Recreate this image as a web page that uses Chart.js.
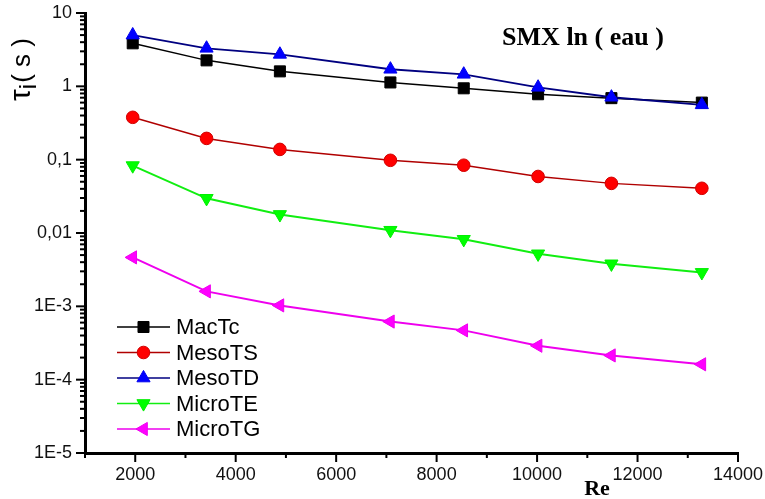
<!DOCTYPE html>
<html>
<head>
<meta charset="utf-8">
<script src="https://cdn.jsdelivr.net/npm/chart.js@4/dist/chart.umd.min.js"></script>
<style>
html, body { margin: 0; padding: 0; background: #fff; }
</style>
</head>
<body>
<canvas id="tau-chart" width="765" height="499"></canvas>
<script>
/* tau_i vs Re, SMX ln (eau) */
var reValues = [1950, 3420, 4880, 7080, 8540, 10020, 11480, 13280];
var macTc   = [3.86, 2.26, 1.60, 1.13, 0.94, 0.78, 0.69, 0.60];
var mesoTS  = [0.378, 0.195, 0.138, 0.098, 0.084, 0.059, 0.0475, 0.0407];
var mesoTD  = [5.0, 3.3, 2.73, 1.71, 1.46, 0.97, 0.71, 0.56];
var microTE = [0.083, 0.0297, 0.0179, 0.0109, 0.0082, 0.0052, 0.0038, 0.0029];
var microTG = [0.00465, 0.0016, 0.00103, 0.00062, 0.00047, 0.00029, 0.000214, 0.000162];

var yTickValues = [10, 1, 0.1, 0.01, 0.001, 0.0001, 0.00001];
var yTickText   = ['10', '1', '0,1', '0,01', '1E-3', '1E-4', '1E-5'];
var xTickValues = [2000, 4000, 6000, 8000, 10000, 12000, 14000];

function pts(values) {
	return reValues.map(function(x, i){ return {x: x, y: values[i]}; });
}

var series = [
	{label: 'MacTc',   data: macTc,   line: '#000000', fill: '#000000', edge: '#000000', style: 'rect',     radius: 7.8, rot: 0,   width: 1.5, order: 1},
	{label: 'MesoTS',  data: mesoTS,  line: '#b00000', fill: '#ff0000', edge: '#d00000', style: 'circle',   radius: 6.3, rot: 0,   width: 1.5, order: 1},
	{label: 'MesoTD',  data: mesoTD,  line: '#000080', fill: '#0000ff', edge: '#0000ee', style: 'triangle', radius: 7.6, rot: 0,   width: 1.8, order: 0},
	{label: 'MicroTE', data: microTE, line: '#11ee11', fill: '#00ff00', edge: '#00ee00', style: 'triangle', radius: 7.6, rot: 180, width: 2,   order: 1},
	{label: 'MicroTG', data: microTG, line: '#ee00ee', fill: '#ff00ff', edge: '#ee00ee', style: 'triangle', radius: 7.6, rot: -90, width: 2,   order: 1}
];

var datasets = series.map(function(s){
	return {
		label: s.label,
		data: pts(s.data),
		borderColor: s.line,
		backgroundColor: s.fill,
		borderWidth: s.width,
		pointStyle: s.style,
		pointRadius: s.radius,
		pointRotation: s.rot,
		pointBackgroundColor: s.fill,
		pointBorderColor: s.edge,
		pointBorderWidth: 1,
		tension: 0,
		order: s.order
	};
});

var AXIS_FONT = '"Liberation Sans", Arial, sans-serif';
var SERIF = '"Liberation Serif", "Times New Roman", serif';

// marker for the legend, same shapes as the points
function legendMarker(ctx, s, x, y) {
	if (Chart.helpers && Chart.helpers.drawPoint) {
		Chart.helpers.drawPoint(ctx, {pointStyle: s.style, radius: s.radius, rotation: s.rot, borderWidth: 1}, x, y);
		return;
	}
	var r = s.radius;
	ctx.beginPath();
	if (s.style === 'circle') {
		ctx.arc(x, y, r, 0, Math.PI * 2);
	} else if (s.style === 'rect') {
		var h = r * Math.SQRT1_2;
		ctx.rect(x - h, y - h, 2 * h, 2 * h);
	} else {
		var a = s.rot * Math.PI / 180;
		for (var k = 0; k < 3; k++) {
			var px = x + Math.sin(a) * r, py = y - Math.cos(a) * r;
			if (k === 0) ctx.moveTo(px, py); else ctx.lineTo(px, py);
			a += Math.PI * 2 / 3;
		}
		ctx.closePath();
	}
	ctx.fill();
	ctx.stroke();
}

// ticks, legend and titles
var decorPlugin = {
	id: 'decor',
	afterDraw: function(chart) {
		var ctx = chart.ctx, xs = chart.scales.x, ys = chart.scales.y, area = chart.chartArea;
		ctx.save();
		ctx.strokeStyle = '#000';
		ctx.lineWidth = 2;

		// y ticks (log, minor 2..9)
		for (var e = -5; e <= 1; e++) {
			for (var m = 1; m <= 9; m++) {
				var v = m * Math.pow(10, e);
				if (v > ys.max * 1.0001) break;
				var py = ys.getPixelForValue(v);
				var len = m === 1 ? 9 : 5;
				ctx.beginPath();
				ctx.moveTo(area.left, py);
				ctx.lineTo(area.left - len, py);
				ctx.stroke();
			}
		}
		// x ticks
		for (var x = xs.min; x <= xs.max; x += 1000) {
			var px = xs.getPixelForValue(x);
			var l = (x % 2000 === 0) ? 9 : 5;
			ctx.beginPath();
			ctx.moveTo(px, area.bottom);
			ctx.lineTo(px, area.bottom + l);
			ctx.stroke();
		}

		// legend
		var lx = 117, ly = 327, step = 25.5;
		series.forEach(function(s, i){
			var y = ly + i * step;
			ctx.strokeStyle = s.line;
			ctx.lineWidth = 1.6;
			ctx.beginPath();
			ctx.moveTo(lx, y);
			ctx.lineTo(lx + 53, y);
			ctx.stroke();
			ctx.fillStyle = s.fill;
			ctx.strokeStyle = s.edge;
			ctx.lineWidth = 1;
			legendMarker(ctx, s, lx + 26.5, y);
			ctx.fillStyle = '#000';
			ctx.font = '22px ' + AXIS_FONT;
			ctx.textAlign = 'left';
			ctx.textBaseline = 'middle';
			ctx.fillText(s.label, lx + 59, y + 1);
		});

		// inner title
		ctx.fillStyle = '#000';
		ctx.font = 'bold 26px ' + SERIF;
		ctx.textAlign = 'center';
		ctx.textBaseline = 'alphabetic';
		ctx.fillText('SMX ln ( eau )', 583, 45);

		// x title
		ctx.font = 'bold 22px ' + SERIF;
		ctx.fillText('Re', 597, 495);

		// y title, rotated, with subscript i
		ctx.save();
		ctx.translate(30, 101);
		ctx.rotate(-Math.PI / 2);
		ctx.textAlign = 'left';
		ctx.textBaseline = 'alphabetic';
		ctx.font = '30px ' + AXIS_FONT;
		ctx.fillText('\u03C4', 0, 0);
		var w = ctx.measureText('\u03C4').width;
		ctx.font = '24px ' + AXIS_FONT;
		ctx.fillText('i', w, 6);
		var wi = ctx.measureText('i').width;
		ctx.font = '26px ' + AXIS_FONT;
		ctx.fillText('( s )', w + wi + 1, 0);
		ctx.restore();

		ctx.restore();
	}
};

var config = {
	type: 'line',
	data: { datasets: datasets },
	plugins: [decorPlugin],
	options: {
		responsive: false,
		animation: false,
		layout: { padding: { left: 0, top: 13, right: 27, bottom: 0 } },
		plugins: {
			legend: { display: false },
			tooltip: { enabled: false },
			title: { display: false }
		},
		scales: {
			x: {
				type: 'linear',
				min: 1000,
				max: 14000,
				grid: { display: false, drawTicks: false },
				border: { display: true, color: '#000', width: 3 },
				afterFit: function(scale){
					scale.height = 46;
					scale.paddingLeft = 0;
					scale.paddingRight = 0;
				},
				afterBuildTicks: function(scale){
					scale.ticks = xTickValues.map(function(v){ return {value: v}; });
				},
				ticks: {
					autoSkip: false,
					maxRotation: 0,
					padding: 11,
					color: '#111',
					font: { family: AXIS_FONT, size: 18 },
					callback: function(v){ return String(v); }
				}
			},
			y: {
				type: 'logarithmic',
				min: 0.00001,
				max: 10,
				grid: { display: false, drawTicks: false },
				border: { display: true, color: '#000', width: 3 },
				afterFit: function(scale){
					scale.width = 85;
					scale.paddingTop = 0;
					scale.paddingBottom = 0;
				},
				afterBuildTicks: function(scale){
					scale.ticks = yTickValues.map(function(v){ return {value: v}; });
				},
				ticks: {
					autoSkip: false,
					padding: 13,
					color: '#111',
					font: { family: AXIS_FONT, size: 18 },
					callback: function(v){
						var i = yTickValues.indexOf(v);
						return i >= 0 ? yTickText[i] : '';
					}
				}
			}
		}
	}
};

var ctx = document.getElementById('tau-chart').getContext('2d');
window.tauChart = new Chart(ctx, config);
</script>
</body>
</html>
